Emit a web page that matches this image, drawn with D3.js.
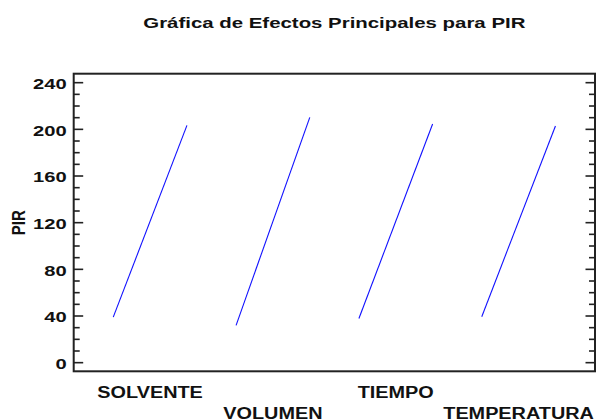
<!doctype html>
<html>
  <head>
    <meta charset="utf-8">
    <title>Efectos Principales para PIR</title>
    <style>
      body { margin: 0; background: #fff; }
      svg { display: block; }
      text { font-family: "Liberation Sans", Arial, sans-serif; font-weight: bold; fill: #111; }
      .frame { fill: none; stroke: #222; stroke-width: 2; }
      .tick { stroke: #222; stroke-width: 1.6; }
      .effect { stroke: #1010ff; stroke-width: 1.1; fill: none; }
    </style>
  </head>
  <body>
    <div id="chart"></div>
    <script src="https://cdn.jsdelivr.net/npm/d3@7"></script>
    <script>
      // data
      var factors = ['SOLVENTE', 'VOLUMEN', 'TIEMPO', 'TEMPERATURA'];
      var lowValues = [39.0, 32.0, 37.8, 39.4];
      var highValues = [203.4, 210.3, 204.6, 202.9];
      var yTicks = [0, 40, 80, 120, 160, 200, 240];
      var yMinorTicks = d3.range(0, 250, 10);

      (function() {
        var width = 597, height = 420;
        var plotLeft = 73.7, plotRight = 595, plotTop = 73.7, plotBottom = 371.3;
        var sx = 1.3; // text in the reference is stretched sideways

        var svg = d3.select('#chart').append('svg')
          .attr('width', width)
          .attr('height', height);

        // each factor runs from i (low) to i + 0.6 (high)
        var x = d3.scaleLinear().domain([-0.322, 3.922]).range([plotLeft, plotRight]);
        var y = d3.scaleLinear().domain([-7.4, 247.7]).range([plotBottom, plotTop]);

        var stretch = function(sel, k) {
          sel.each(function() {
            var w = this.getComputedTextLength();
            d3.select(this).attr('textLength', w * k).attr('lengthAdjust', 'spacingAndGlyphs');
          });
        };

        svg.append('text')
          .attr('x', (plotLeft + plotRight) / 2)
          .attr('y', 28)
          .attr('text-anchor', 'middle')
          .style('font-size', '15px')
          .text('Gráfica de Efectos Principales para PIR')
          .call(stretch, 1.36);

        // minor and major ticks, inside on both sides
        var ticks = svg.append('g');
        yMinorTicks.forEach(function(v) {
          var major = yTicks.indexOf(v) >= 0;
          var len = major ? 9.5 : 6;
          ticks.append('line').attr('class', 'tick')
            .attr('x1', plotLeft).attr('x2', plotLeft + len)
            .attr('y1', y(v)).attr('y2', y(v));
          ticks.append('line').attr('class', 'tick')
            .attr('x1', plotRight).attr('x2', plotRight - len)
            .attr('y1', y(v)).attr('y2', y(v));
        });

        svg.append('g').selectAll('text')
          .data(yTicks)
          .enter().append('text')
          .attr('x', plotLeft - 7)
          .attr('y', function(d) { return y(d); })
          .attr('dy', '0.4em')
          .attr('text-anchor', 'end')
          .style('font-size', '15.5px')
          .text(function(d) { return d; })
          .call(stretch, sx);

        // rotated axis title, widened sideways like the rest
        svg.append('text')
          .attr('transform', 'translate(25,' + y(120) + ') scale(1.27,1) rotate(-90)')
          .attr('text-anchor', 'middle')
          .style('font-size', '15px')
          .text('PIR');

        svg.append('rect').attr('class', 'frame')
          .attr('x', plotLeft).attr('y', plotTop)
          .attr('width', plotRight - plotLeft).attr('height', plotBottom - plotTop);

        svg.append('g').selectAll('line')
          .data(factors)
          .enter().append('line')
          .attr('class', 'effect')
          .attr('x1', function(d, i) { return x(i); })
          .attr('x2', function(d, i) { return x(i + 0.6); })
          .attr('y1', function(d, i) { return y(lowValues[i]); })
          .attr('y2', function(d, i) { return y(highValues[i]); });

        svg.append('g').selectAll('text')
          .data(factors)
          .enter().append('text')
          .attr('x', function(d, i) { return x(i + 0.3); })
          .attr('y', function(d, i) { return i % 2 ? 418.5 : 398.3; })
          .attr('text-anchor', 'middle')
          .style('font-size', '16px')
          .text(function(d) { return d; })
          .call(stretch, 1.24);
      })();
    </script>
  </body>
</html>
